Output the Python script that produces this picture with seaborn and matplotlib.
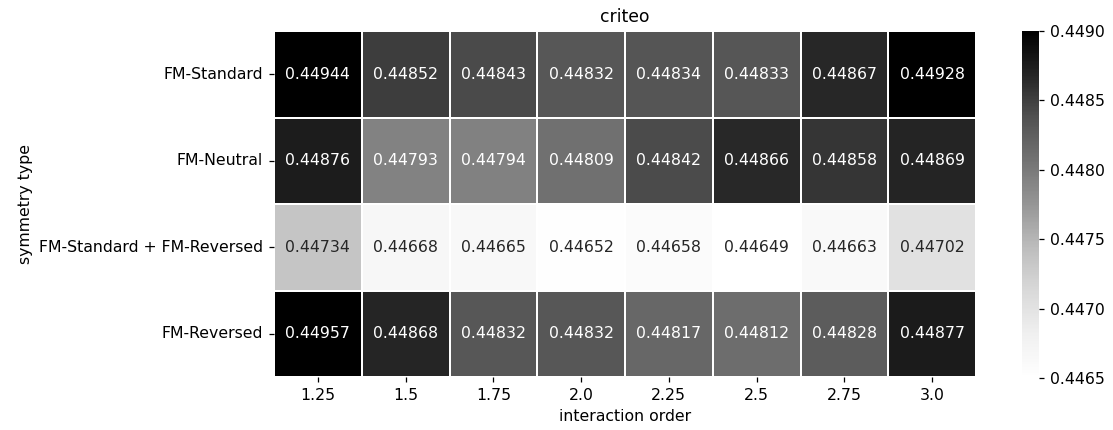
import matplotlib
matplotlib.use("Agg")
import matplotlib.pyplot as plt
import seaborn as sns
import pandas as pd
import numpy as np

plt.rcParams['font.family'] = ['DejaVu Sans']
plt.rcParams['font.size'] = 10

symmetry_types = ["FM-Standard", "FM-Neutral", "FM-Standard + FM-Reversed", "FM-Reversed"]
interaction_orders = ["1.25", "1.5", "1.75", "2.0", "2.25", "2.5", "2.75", "3.0"]

fm_standard = [0.44944, 0.44852, 0.44843, 0.44832, 0.44834, 0.44833, 0.44867, 0.44928]
fm_neutral = [0.44876, 0.44793, 0.44794, 0.44809, 0.44842, 0.44866, 0.44858, 0.44869]
fm_std_rev = [0.44734, 0.44668, 0.44665, 0.44652, 0.44658, 0.44649, 0.44663, 0.44702]
fm_reversed = [0.44957, 0.44868, 0.44832, 0.44832, 0.44817, 0.44812, 0.44828, 0.44877]

df = pd.DataFrame([fm_standard, fm_neutral, fm_std_rev, fm_reversed],
                  index=symmetry_types, columns=interaction_orders)

fig = plt.figure(figsize=(1113 / 113, 430 / 113), dpi=113)
ax = fig.add_axes([274 / 1113, 1 - 377 / 430, 702 / 1113, 346 / 430])
cax = fig.add_axes([1022 / 1113, 1 - 378 / 430, 17 / 1113, 347 / 430])

sns.heatmap(df, ax=ax, cbar_ax=cax, cmap="Greys", vmin=0.4465, vmax=0.4490,
            annot=True, fmt=".5f", linewidths=1.2, linecolor="white")

ax.set_title("criteo", fontsize=11)
ax.set_xlabel("interaction order")
ax.set_ylabel("symmetry type")
ax.tick_params(axis='y', rotation=0)
ax.tick_params(axis='x', rotation=0)
cax.set_yticks([0.4465, 0.4470, 0.4475, 0.4480, 0.4485, 0.4490])
cax.set_yticklabels(["0.4465", "0.4470", "0.4475", "0.4480", "0.4485", "0.4490"])

fig.savefig("out.png", dpi=113)
